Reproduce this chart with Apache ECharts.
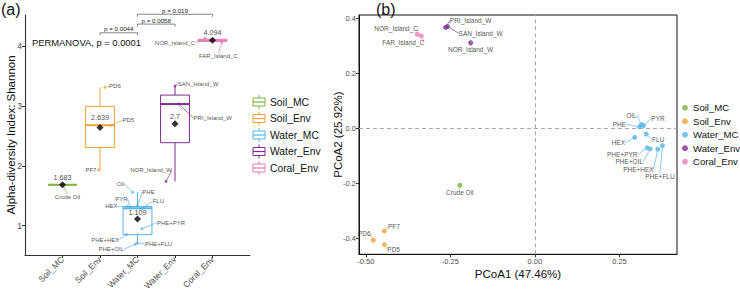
<!DOCTYPE html>
<html><head><meta charset="utf-8">
<script src="https://cdn.jsdelivr.net/npm/echarts@6.0.0/dist/echarts.min.js"></script>
<style>html,body{margin:0;padding:0;background:#fff}#c{width:740px;height:296px}</style>
</head><body><div id="c"></div>
<script>
// ---------- data ----------
const groups = ['Soil_MC', 'Soil_Env', 'Water_MC', 'Water_Env', 'Coral_Env'];
const colors = ['#7DB443', '#EDA338', '#56B4E9', '#7E2F8E', '#E87DB8'];

// panel (a): Shannon index per sample
const sampleNames = [
  ['Crude Oil'],
  ['PD5', 'PD6', 'PF7'],
  ['Oil', 'PHE', 'PYR', 'FLU', 'HEX', 'PHE+PYR', 'PHE+HEX', 'PHE+FLU', 'PHE+OIL'],
  ['SAN_Island_W', 'PRI_Island_W', 'NOR_Island_W'],
  ['NOR_Island_C', 'FAR_Island_C']
];
const shannon = [
  [1.683],
  [2.677, 3.31, 1.93],
  [1.56, 1.33, 1.30, 1.29, 1.32, 0.95, 0.85, 0.71, 0.69],
  [3.33, 3.03, 1.74],
  [4.13, 4.058]
];
const jitter = [
  [0],
  [0.3, 0.13, -0.03],
  [-0.13, 0, -0.19, 0.13, -0.27, 0.12, -0.3, 0, -0.06],
  [0, 0.1, -0.24],
  [-0.2, 0.25]
];
const shannonMean = [1.683, 2.639, 1.109, 2.7, 4.094];
const meanLabels = ['1.683', '2.639', '1.109', '2.7', '4.094'];
const shannonTicks = [1, 2, 3, 4];

const sigFrom = [2, 3, 3];
const sigTo = [3, 4, 5];
const sigY = [4.22, 4.365, 4.53];
const sigText = ['p = 0.0044', 'p = 0.0058', 'p = 0.019'];
const permanovaText = 'PERMANOVA, p = 0.0001';

// panel (b): PCoA
const pcoaNames = [
  ['Crude Oil'],
  ['PF7', 'PD5', 'PD6'],
  ['OIL', 'PYR', 'PHE', 'FLU', 'HEX', 'PHE+PYR', 'PHE+OIL', 'PHE+HEX', 'PHE+FLU'],
  ['PRI_Island_W', 'SAN_Island_W', 'NOR_Island_W'],
  ['NOR_Island_C', 'FAR_Island_C']
];
const pcoa1 = [
  [-0.222],
  [-0.445, -0.445, -0.478],
  [0.315, 0.321, 0.309, 0.329, 0.295, 0.332, 0.341, 0.363, 0.377],
  [-0.264, -0.258, -0.190],
  [-0.348, -0.336]
];
const pcoa2 = [
  [-0.207],
  [-0.373, -0.423, -0.407],
  [0.014, 0.010, 0.005, -0.021, -0.033, -0.071, -0.075, -0.076, -0.063],
  [0.367, 0.370, 0.311],
  [0.342, 0.336]
];
const pcoaXTicks = [-0.5, -0.25, 0, 0.25];
const pcoaYTicks = [-0.4, -0.2, 0, 0.2, 0.4];

// ---------- label offsets (pixels, label centre relative to point) ----------
const offA = {
  'Crude Oil': [5, 12], 'PD6': [10, -1], 'PD5': [17, -5], 'PF7': [-8, 0.5],
  'Oil': [-12, -8], 'PHE': [11, -14], 'PYR': [-9, -9], 'FLU': [16, -7], 'HEX': [-16, 0],
  'PHE+PYR': [29, -6], 'PHE+HEX': [-21, 5], 'PHE+FLU': [21, 1], 'PHE+OIL': [-24, 5],
  'SAN_Island_W': [23, -2], 'PRI_Island_W': [34, 14], 'NOR_Island_W': [-15, -11],
  'NOR_Island_C': [-30, 4.5], 'FAR_Island_C': [-3.5, 14]
};
const offB = {
  'NOR_Island_C': [-21, -5.6], 'FAR_Island_C': [-18, 6.7], 'PRI_Island_W': [25, -6.6],
  'SAN_Island_W': [33, 6.6], 'NOR_Island_W': [0, 6.6], 'Crude Oil': [0, 7.4],
  'PF7': [9.5, -4.3], 'PD5': [9.3, 4.6], 'PD6': [-9, -6.3],
  'OIL': [-10, -9], 'PYR': [14.5, -7.2], 'PHE': [-20, -2.7], 'FLU': [12, 5.3], 'HEX': [-16.3, 5.4],
  'PHE+PYR': [-25, 6.6], 'PHE+OIL': [-21, 13], 'PHE+HEX': [-19.3, 20], 'PHE+FLU': [-2.5, 31]
};
const meanLabelDy = [-7, -10, -6.5, -7, -8];

// ---------- helpers ----------
const FONT = 'Liberation Sans, Arial, sans-serif';
function quantile(s, p) { const h = (s.length - 1) * p, lo = Math.floor(h), hi = Math.ceil(h); return s[lo] + (s[hi] - s[lo]) * (h - lo); }
function boxStats(v) {
  const s = [...v].sort((a, b) => a - b);
  const q1 = quantile(s, 0.25), med = quantile(s, 0.5), q3 = quantile(s, 0.75), iqr = q3 - q1;
  const lo = Math.min(...s.filter(x => x >= q1 - 1.5 * iqr));
  const hi = Math.max(...s.filter(x => x <= q3 + 1.5 * iqr));
  return [lo, q1, med, q3, hi];
}
const boxData = shannon.map((v, i) => [i + 1, ...boxStats(v)]);

function layoutWith(map) {
  return function (p) {
    const o = map[p.text];
    if (!o) return {};
    return { x: p.rect.x + p.rect.width / 2 + o[0], y: p.rect.y + p.rect.height / 2 + o[1], align: 'center', verticalAlign: 'middle' };
  };
}

const chart = echarts.init(document.getElementById('c'), null, { renderer: 'svg', width: 740, height: 296 });

const axisLineA = { show: true, onZero: false, lineStyle: { color: '#333', width: 1.1 } };
const series = [];

// boxes
series.push({
  type: 'custom', name: 'box', xAxisIndex: 0, yAxisIndex: 0, z: 2,
  encode: { x: 0, y: [1, 2, 3, 4, 5] },
  data: boxData,
  renderItem: function (params, api) {
    const x = api.value(0), lo = api.value(1), q1 = api.value(2), med = api.value(3), q3 = api.value(4), hi = api.value(5);
    const hw = 0.385, c = colors[params.dataIndex];
    const tl = api.coord([x - hw, q3]), br = api.coord([x + hw, q1]);
    const pLo = api.coord([x, lo]), pHi = api.coord([x, hi]), pQ1 = api.coord([x, q1]), pQ3 = api.coord([x, q3]);
    const m1 = api.coord([x - hw, med]), m2 = api.coord([x + hw, med]);
    return { type: 'group', children: [
      { type: 'line', shape: { x1: pHi[0], y1: pHi[1], x2: pQ3[0], y2: pQ3[1] }, style: { stroke: c, lineWidth: 1 } },
      { type: 'line', shape: { x1: pLo[0], y1: pLo[1], x2: pQ1[0], y2: pQ1[1] }, style: { stroke: c, lineWidth: 1 } },
      { type: 'rect', shape: { x: tl[0], y: tl[1], width: br[0] - tl[0], height: br[1] - tl[1] }, style: { fill: '#fff', stroke: c, lineWidth: 1 } },
      { type: 'line', shape: { x1: m1[0], y1: m1[1], x2: m2[0], y2: m2[1] }, style: { stroke: c, lineWidth: 2 } }
    ] };
  }
});

// jittered sample points (a)
groups.forEach((g, gi) => {
  series.push({
    type: 'scatter', name: 'pts_' + g, xAxisIndex: 0, yAxisIndex: 0, z: 3,
    symbolSize: 3, itemStyle: { color: colors[gi] },
    data: shannon[gi].map((v, k) => ({ name: sampleNames[gi][k], value: [gi + 1 + jitter[gi][k], v] })),
    label: { show: true, position: 'inside', formatter: '{b}', fontSize: 6, fontFamily: FONT, color: '#222' },
    labelLine: { show: true, lineStyle: { color: colors[gi], width: 0.7 } },
    labelLayout: layoutWith(offA),
    emphasis: { disabled: true }
  });
});

// means
series.push({
  type: 'scatter', name: 'mean', xAxisIndex: 0, yAxisIndex: 0, z: 5,
  symbol: 'diamond', symbolSize: 7, itemStyle: { color: '#000' },
  data: shannonMean.map((m, i) => [i + 1, m]),
  label: { show: true, position: 'inside', formatter: p => meanLabels[p.dataIndex], fontSize: 7.2, fontFamily: FONT, color: '#111' },
  labelLayout: p => ({ dy: meanLabelDy[p.dataIndex] }),
  emphasis: { disabled: true }
});

// significance brackets
series.push({
  type: 'custom', name: 'sig', xAxisIndex: 0, yAxisIndex: 0, z: 4, clip: false,
  encode: { x: [0, 1], y: 2 },
  data: sigFrom.map((f, i) => [f, sigTo[i], sigY[i]]),
  renderItem: function (params, api) {
    const a = api.coord([api.value(0), api.value(2)]), b = api.coord([api.value(1), api.value(2)]);
    const d = 2.5;
    return { type: 'group', children: [
      { type: 'polyline', shape: { points: [[a[0], a[1] + d], [a[0], a[1]], [b[0], b[1]], [b[0], b[1] + d]] }, style: { stroke: '#666', lineWidth: 0.8, fill: null } },
      { type: 'text', style: { text: sigText[params.dataIndex], x: (a[0] + b[0]) / 2, y: a[1] - 1, align: 'center', verticalAlign: 'bottom', fontSize: 6.2, fontFamily: FONT, fill: '#222' } }
    ] };
  }
});

// PCoA points (b)
groups.forEach((g, gi) => {
  series.push({
    type: 'scatter', name: g, xAxisIndex: 1, yAxisIndex: 1, z: 3,
    symbolSize: 5, itemStyle: { color: colors[gi] },
    data: pcoa1[gi].map((x, k) => ({ name: pcoaNames[gi][k], value: [x, pcoa2[gi][k]] })),
    label: { show: true, position: 'inside', formatter: '{b}', fontSize: 6.5, fontFamily: FONT, color: '#222' },
    labelLine: { show: true, lineStyle: { color: colors[gi], width: 0.7 } },
    labelLayout: layoutWith(offB),
    emphasis: { disabled: true },
    markLine: gi === 0 ? {
      silent: true, symbol: 'none', label: { show: false },
      lineStyle: { type: [4, 3], color: '#a8a8a8', width: 1, opacity: 1 },
      emphasis: { disabled: true },
      data: [{ xAxis: 0 }, { yAxis: 0 }]
    } : undefined
  });
});

// legend (a) drawn as boxplot keys
const legendA = [];
groups.forEach((g, i) => {
  const cy = 102 + i * 16.5, cx = 259, c = colors[i];
  legendA.push({ type: 'rect', shape: { x: cx - 6, y: cy - 4, width: 12, height: 8 }, style: { fill: '#fff', stroke: c, lineWidth: 1 } });
  legendA.push({ type: 'line', shape: { x1: cx - 6, y1: cy, x2: cx + 6, y2: cy }, style: { stroke: c, lineWidth: 1.2 } });
  legendA.push({ type: 'line', shape: { x1: cx, y1: cy - 7, x2: cx, y2: cy - 4 }, style: { stroke: c, lineWidth: 1 } });
  legendA.push({ type: 'line', shape: { x1: cx, y1: cy + 4, x2: cx, y2: cy + 7 }, style: { stroke: c, lineWidth: 1 } });
  legendA.push({ type: 'text', style: { text: g, x: 270, y: cy, verticalAlign: 'middle', fontSize: 10.3, fontFamily: FONT, fill: '#111' } });
});

chart.setOption({
  animation: false,
  backgroundColor: '#fff',
  textStyle: { fontFamily: FONT },
  grid: [
    { left: 25, top: 15, width: 225, height: 240 },
    { left: 359, top: 15, width: 318, height: 239.3, show: true, borderColor: '#111', borderWidth: 1, backgroundColor: 'transparent' }
  ],
  xAxis: [
    { type: 'value', gridIndex: 0, min: 0, max: 6,
      axisLine: axisLineA,
      axisTick: { show: true, customValues: [1, 2, 3, 4, 5], length: 3, lineStyle: { color: '#333' } },
      axisLabel: { customValues: [1, 2, 3, 4, 5], formatter: v => groups[v - 1] || '', rotate: 45, fontSize: 8.5, color: '#4D4D4D', margin: 3, fontFamily: FONT },
      splitLine: { show: false } },
    { type: 'value', gridIndex: 1, min: -0.52, max: 0.42,
      axisLine: { show: true, onZero: false, lineStyle: { color: '#111', width: 1 } },
      axisTick: { show: true, customValues: pcoaXTicks, length: 3, lineStyle: { color: '#333' } },
      axisLabel: { customValues: pcoaXTicks, formatter: v => v.toFixed(2), fontSize: 7.5, color: '#4D4D4D', margin: 3, fontFamily: FONT },
      splitLine: { show: false },
      name: 'PCoA1 (47.46%)', nameLocation: 'middle', nameGap: 14, nameMoveOverlap: false, nameTextStyle: { fontSize: 11.5, color: '#111', fontFamily: FONT } }
  ],
  yAxis: [
    { type: 'value', gridIndex: 0, min: 0.51, max: 4.517,
      axisLine: axisLineA,
      axisTick: { show: true, customValues: shannonTicks, length: 3, lineStyle: { color: '#333' } },
      axisLabel: { customValues: shannonTicks, fontSize: 8.5, color: '#4D4D4D', margin: 3, fontFamily: FONT },
      splitLine: { show: false },
      name: 'Alpha-diversity Index: Shannon', nameLocation: 'middle', nameGap: 8, nameMoveOverlap: false, nameTextStyle: { fontSize: 11.5, color: '#111', fontFamily: FONT } },
    { type: 'value', gridIndex: 1, min: -0.458, max: 0.412,
      axisLine: { show: true, onZero: false, lineStyle: { color: '#111', width: 1 } },
      axisTick: { show: true, customValues: pcoaYTicks, length: 3, lineStyle: { color: '#333' } },
      axisLabel: { customValues: pcoaYTicks, formatter: v => v.toFixed(1), fontSize: 7.5, color: '#4D4D4D', margin: 3, fontFamily: FONT },
      splitLine: { show: false },
      name: 'PCoA2 (25.92%)', nameLocation: 'middle', nameGap: 15, nameMoveOverlap: false, nameTextStyle: { fontSize: 11.5, color: '#111', fontFamily: FONT } }
  ],
  legend: {
    data: groups, orient: 'vertical', left: 682, top: 102, padding: 0, icon: 'circle',
    itemWidth: 6, itemHeight: 6, itemGap: 2, selectedMode: false,
    textStyle: { fontSize: 9.6, color: '#111', fontFamily: FONT, lineHeight: 11.5 }
  },
  graphic: [
    { type: 'text', left: 1, top: 1, style: { text: '(a)', fontSize: 16, fontFamily: FONT, fill: '#111' } },
    { type: 'text', left: 376, top: 1, style: { text: '(b)', fontSize: 16, fontFamily: FONT, fill: '#111' } },
    { type: 'text', style: { text: permanovaText, x: 32, y: 42, verticalAlign: 'middle', fontSize: 9.4, fontFamily: FONT, fill: '#111' } },
    ...legendA
  ],
  series: series
});
</script>
</body></html>
